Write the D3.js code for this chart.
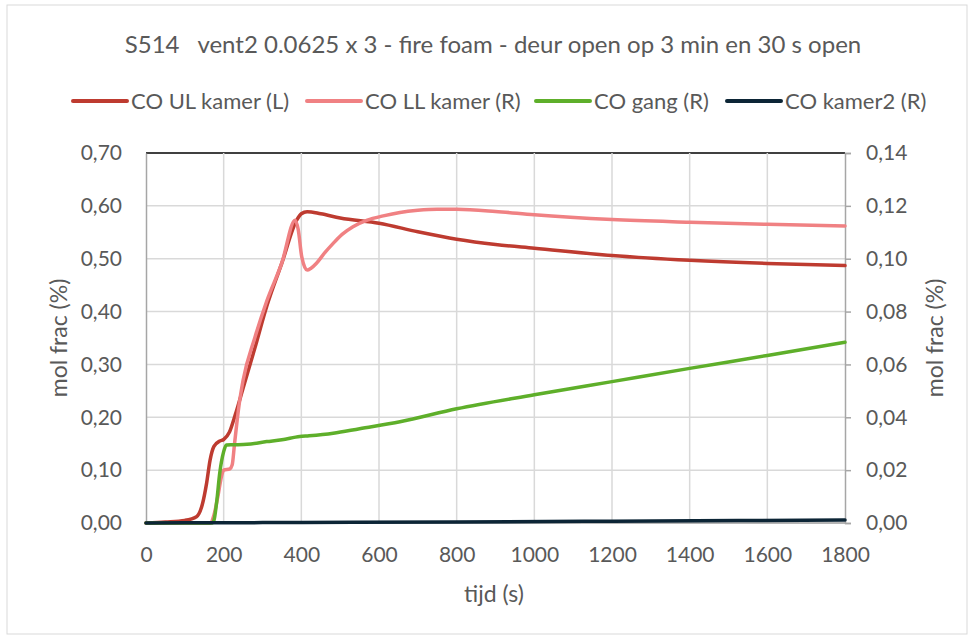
<!DOCTYPE html>
<html>
<head>
<meta charset="utf-8">
<script src="https://cdn.jsdelivr.net/npm/d3@7"></script>
<style>
  body { margin: 0; background: #fff; }
  text { font-family: Lato, "Open Sans", sans-serif; fill: #595959; }
</style>
</head>
<body>
<div id="chart"></div>
<script>
let svgWidth = 974;
let svgHeight = 639;
let margin = { top: 153, right: 129, bottom: 116, left: 146 };
let width = svgWidth - margin.left - margin.right;
let height = svgHeight - margin.top - margin.bottom;

// Data

let titleText = "S514   vent2 0.0625 x 3 - fire foam - deur open op 3 min en 30 s open";
let xTicks = [0, 200, 400, 600, 800, 1000, 1200, 1400, 1600, 1800];
let leftTicks = [0, 0.1, 0.2, 0.3, 0.4, 0.5, 0.6, 0.7];
let rightTicks = [0, 0.02, 0.04, 0.06, 0.08, 0.1, 0.12, 0.14];

let ulTime = [0, 50, 100, 130, 145, 156, 165, 175, 190, 200, 215, 230, 250, 280, 311, 350, 388, 400, 415, 450, 500, 600, 700, 800, 900, 1000, 1200, 1400, 1600, 1800];
let ulValue = [0, 0.002, 0.005, 0.012, 0.035, 0.075, 0.119, 0.145, 0.155, 0.158, 0.172, 0.205, 0.255, 0.33, 0.41, 0.492, 0.573, 0.585, 0.589, 0.585, 0.577, 0.567, 0.551, 0.537, 0.527, 0.52, 0.506, 0.497, 0.491, 0.487];

let llTime = [0, 165, 175, 185, 195, 200, 216, 222, 228, 240, 250, 280, 311, 350, 384, 392, 401, 415, 425, 439, 460, 482, 505, 533, 570, 611, 654, 700, 750, 800, 900, 1000, 1200, 1400, 1600, 1800];
let llValue = [0, 0, 0.003, 0.01, 0.018, 0.02, 0.0205, 0.022, 0.03, 0.045, 0.054, 0.07, 0.084, 0.0985, 0.1146, 0.111, 0.1008, 0.0957, 0.0964, 0.0983, 0.1022, 0.1058, 0.1092, 0.1121, 0.1146, 0.1162, 0.1175, 0.1183, 0.1187, 0.1187, 0.1179, 0.1166, 0.1148, 0.1138, 0.113, 0.1124];

let gangTime = [0, 170, 175, 182, 190, 200, 207, 224, 260, 311, 350, 396, 420, 482, 550, 654, 800, 1000, 1200, 1400, 1600, 1800];
let gangValue = [0, 0, 0.001, 0.008, 0.019, 0.027, 0.0295, 0.0296, 0.0298, 0.0308, 0.0315, 0.0327, 0.033, 0.034, 0.0357, 0.0383, 0.0432, 0.0485, 0.0535, 0.0585, 0.0634, 0.0684];

let k2Time = [0, 200, 400, 800, 1200, 1800];
let k2Value = [0, 0.0001, 0.0002, 0.0004, 0.0007, 0.0011];

let seriesNames = ["CO UL kamer (L)", "CO LL kamer (R)", "CO gang (R)", "CO kamer2 (R)"];
let seriesColors = ["#BE3B30", "#F08183", "#5EAF2A", "#0C2536"];

// Chart

let svg = d3.select("#chart").append("svg").attr("width", svgWidth).attr("height", svgHeight);

svg.append("rect")
  .attr("x", 7).attr("y", 5)
  .attr("width", 960).attr("height", 629)
  .attr("fill", "#fff")
  .attr("stroke", "#D9D9D9");

let chartGroup = svg.append("g").attr("transform", `translate(${margin.left}, ${margin.top})`);

let xScale = d3.scaleLinear().domain([0, 1800]).range([0, width]);
let yLeft = d3.scaleLinear().domain([0, 0.7]).range([height, 0]);
let yRight = d3.scaleLinear().domain([0, 0.14]).range([height, 0]);
let comma = d => d3.format(".2f")(d).replace(".", ",");

// gridlines
chartGroup.append("g")
  .selectAll("line.h")
  .data(leftTicks)
  .enter()
  .append("line")
  .attr("x1", 0).attr("x2", width)
  .attr("y1", d => yLeft(d)).attr("y2", d => yLeft(d))
  .attr("stroke", d => d === 0.7 ? "#000" : "#D9D9D9")
  .attr("stroke-width", 1.5);

chartGroup.append("g")
  .selectAll("line.v")
  .data(xTicks.slice(1, -1))
  .enter()
  .append("line")
  .attr("x1", d => xScale(d)).attr("x2", d => xScale(d))
  .attr("y1", 0).attr("y2", height)
  .attr("stroke", "#D9D9D9")
  .attr("stroke-width", 1.5);

// axes
let xAxis = chartGroup.append("g")
  .attr("transform", `translate(0, ${height})`)
  .call(d3.axisBottom(xScale).tickValues(xTicks).tickFormat(d3.format("d")).tickSize(0).tickPadding(24));

let leftAxis = chartGroup.append("g")
  .call(d3.axisLeft(yLeft).tickValues(leftTicks).tickFormat(comma).tickSize(0).tickPadding(24));

let rightAxis = chartGroup.append("g")
  .attr("transform", `translate(${width}, 0)`)
  .call(d3.axisRight(yRight).tickValues(rightTicks).tickFormat(comma).tickSize(6).tickPadding(15));

[xAxis, leftAxis, rightAxis].forEach(ax => {
  ax.select(".domain").attr("stroke", "#A6A6A6").attr("stroke-width", 1.5);
  ax.selectAll(".tick line").attr("stroke", "#A6A6A6").attr("stroke-width", 1.5);
  ax.selectAll("text").style("font-size", "21px").attr("fill", "#595959");
});
xAxis.select(".domain").attr("stroke", "none");
chartGroup.append("line")
  .attr("x1", 0).attr("x2", width)
  .attr("y1", height).attr("y2", height)
  .attr("stroke", "#A6A6A6").attr("stroke-width", 1.5);

// lines
let seriesData = [
  { t: ulTime, v: ulValue, y: yLeft },
  { t: llTime, v: llValue, y: yRight },
  { t: gangTime, v: gangValue, y: yRight },
  { t: k2Time, v: k2Value, y: yRight }
];

seriesData.forEach((s, i) => {
  let pts = s.t.map((t, j) => [t, s.v[j]]);
  let line = d3.line()
    .x(d => xScale(d[0]))
    .y(d => s.y(d[1]))
    .curve(d3.curveMonotoneX);
  chartGroup.append("path")
    .datum(pts)
    .attr("d", line)
    .attr("fill", "none")
    .attr("stroke", seriesColors[i])
    .attr("stroke-width", 3.5)
    .attr("stroke-linejoin", "round")
    .attr("stroke-linecap", "round");
});

// title
svg.append("text")
  .attr("x", 493).attr("y", 53)
  .attr("text-anchor", "middle")
  .style("font-size", "24px")
  .style("white-space", "pre")
  .attr("xml:space", "preserve")
  .text(titleText);

// legend
let legendX = [73, 307, 536, 727];
let legend = svg.append("g");
seriesNames.forEach((name, i) => {
  legend.append("line")
    .attr("x1", legendX[i]).attr("x2", legendX[i] + 54)
    .attr("y1", 101).attr("y2", 101)
    .attr("stroke", seriesColors[i])
    .attr("stroke-width", 4)
    .attr("stroke-linecap", "round");
  legend.append("text")
    .attr("x", legendX[i] + 58).attr("y", 109)
    .style("font-size", "22px")
    .text(name);
});

// axis labels
svg.append("text")
  .attr("x", 494).attr("y", 602)
  .attr("text-anchor", "middle")
  .style("font-size", "23px")
  .text("tijd (s)");

svg.append("text")
  .attr("transform", `translate(67, ${margin.top + height / 2}) rotate(-90)`)
  .attr("text-anchor", "middle")
  .style("font-size", "23px")
  .text("mol frac (%)");

svg.append("text")
  .attr("transform", `translate(943, ${margin.top + height / 2}) rotate(-90)`)
  .attr("text-anchor", "middle")
  .style("font-size", "23px")
  .text("mol frac (%)");
</script>
</body>
</html>
